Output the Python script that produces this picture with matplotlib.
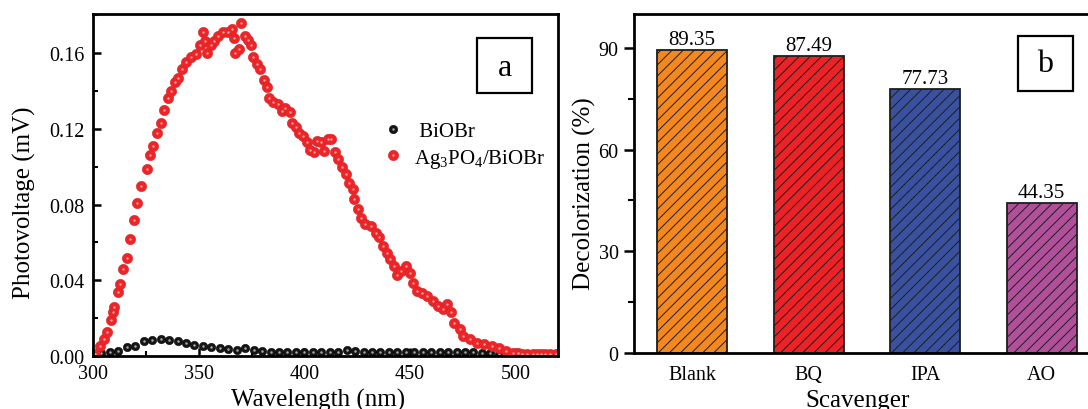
import matplotlib
matplotlib.use("Agg")
import matplotlib.pyplot as plt
from matplotlib.patches import Rectangle
from matplotlib.ticker import MultipleLocator
from matplotlib.legend_handler import HandlerTuple

plt.rcParams['font.family'] = ['Liberation Serif', 'DejaVu Serif']
plt.rcParams['mathtext.fontset'] = 'custom'
plt.rcParams['mathtext.rm'] = 'Liberation Serif'
plt.rcParams['mathtext.it'] = 'Liberation Serif:italic'
plt.rcParams['hatch.linewidth'] = 0.7

# ---------------- data: panel a ----------------
wl_ag = [300, 301, 303.3, 305, 306.5, 308.4, 309.6, 310, 312, 312.7, 314.3, 316, 317.7,
         319.4, 321, 322.7, 325.3, 327, 328.6, 330.3, 332, 333.7, 335.4, 337, 338.7,
         340.4, 342, 343.8, 346.3, 348.8, 350.5, 351.9, 353, 354, 355.6, 357.2, 359,
         361.4, 364, 365.7, 366.5, 367.3, 369, 370.1, 372, 373.2, 374.9, 375.8, 377.4,
         379, 380.8, 382.5, 383.3, 385, 387.5, 389.2, 391, 393, 394.3, 396, 397.6,
         399.3, 401, 402.7, 404.4, 406, 407.7, 409.4, 411, 412.8, 414.5, 416, 417.8,
         419.5, 421.2, 422.9, 423.7, 425.4, 427, 428.8, 431.3, 433.8, 435.5, 437.2,
         438.9, 440.6, 442.3, 443.9, 445.6, 448, 449.8, 451.5, 453.2, 455.7, 458.2,
         460.8, 463.3, 465.8, 467.5, 469.2, 470.9, 473.4, 475.1, 478.5, 481.8, 485.2,
         488.6, 491.9, 495.3, 498.7, 501, 503, 505.4, 508, 510, 512, 514, 516, 518.9]
pv_ag = [0.0005, 0.001, 0.0054, 0.0088, 0.0126, 0.019, 0.023, 0.026, 0.034, 0.038, 0.046,
         0.052, 0.062, 0.072, 0.081, 0.090, 0.099, 0.106, 0.111, 0.118, 0.123, 0.130,
         0.136, 0.140, 0.1445, 0.147, 0.1515, 0.155, 0.158, 0.1595, 0.164, 0.171, 0.1665,
         0.160, 0.164, 0.1665, 0.169, 0.171, 0.171, 0.1725, 0.168, 0.160, 0.162, 0.1758,
         0.169, 0.167, 0.164, 0.158, 0.154, 0.1515, 0.146, 0.142, 0.136, 0.134, 0.133,
         0.1295, 0.131, 0.1286, 0.123, 0.121, 0.118, 0.116, 0.113, 0.109, 0.1075, 0.1137,
         0.113, 0.1084, 0.1145, 0.1145, 0.1075, 0.104, 0.100, 0.096, 0.0916, 0.088, 0.083,
         0.0775, 0.073, 0.0696, 0.0687, 0.065, 0.0626, 0.058, 0.0546, 0.051, 0.0476, 0.043,
         0.045, 0.0476, 0.044, 0.0388, 0.0344, 0.0335, 0.0317, 0.029, 0.0264, 0.0247,
         0.0273, 0.023, 0.0176, 0.014, 0.0106, 0.0088, 0.007, 0.0062, 0.0053, 0.0044,
         0.0026, 0.0018, 0.0015, 0.0013, 0.0012, 0.0011, 0.001, 0.0009, 0.0009, 0.0009,
         0.0009]

wl_bi = [304, 308, 312, 316, 320, 324, 328, 332, 336, 340, 344, 348, 352, 356, 360, 364,
         368, 372, 376, 380, 384, 388, 392, 396, 400, 404, 408, 412, 416, 420, 424, 428,
         432, 436, 440, 444, 448, 452, 456, 460, 464, 468, 472, 476, 480, 484, 488, 492,
         496, 500, 504, 508, 512, 516]
pv_bi = [0.0015, 0.0022, 0.0025, 0.0050, 0.0055, 0.0080, 0.0086, 0.0092, 0.0086, 0.0080,
         0.0068, 0.0058, 0.0051, 0.0046, 0.0041, 0.0037, 0.0034, 0.0040, 0.0029, 0.0028,
         0.0022, 0.0022, 0.0021, 0.0021, 0.0021, 0.0021, 0.0021, 0.0022, 0.0021, 0.0030,
         0.0024, 0.0021, 0.0021, 0.0021, 0.0021, 0.0021, 0.0021, 0.0021, 0.0021, 0.0021,
         0.0022, 0.0021, 0.0020, 0.0021, 0.0021, 0.0018, 0.0015, 0.0012, 0.0010, 0.0010,
         0.0010, 0.0010, 0.0010, 0.0012]

# ---------------- data: panel b ----------------
scavengers = ['Blank', 'BQ', 'IPA', 'AO']
decolorization = [89.35, 87.49, 77.73, 44.35]
bar_colors = ['#F5871F', '#EC2227', '#3A51A0', '#B0509A']

fig = plt.figure(figsize=(10.88, 4.10), dpi=100)

# ---------------- panel a ----------------
ax1 = fig.add_axes([0.0855, 0.1293, 0.4274, 0.8341])
lb, = ax1.plot(wl_bi, pv_bi, 'o', ms=6.0, color='#151515', mec='#000000', mew=0.4, ls='none')
lbh, = ax1.plot(wl_bi, pv_bi, 'o', ms=1.8, color='#a8a8a8', mew=0, ls='none')
lr, = ax1.plot(wl_ag, pv_ag, 'o', ms=7.4, color='#EC2628', mec='#dc2022', mew=0.4, ls='none')
lrh, = ax1.plot(wl_ag, pv_ag, 'o', ms=1.7, color='#f7a5a5', mew=0, ls='none')

ax1.set_xlim(300, 520)
ax1.set_ylim(0, 0.1806)
ax1.xaxis.set_major_locator(MultipleLocator(50))
ax1.xaxis.set_minor_locator(MultipleLocator(25))
ax1.yaxis.set_major_locator(MultipleLocator(0.04))
ax1.yaxis.set_minor_locator(MultipleLocator(0.02))
ax1.yaxis.set_major_formatter(plt.FormatStrFormatter('%.2f'))
ax1.tick_params(which='major', direction='in', length=6, width=1.8, labelsize=14.5, pad=6)
ax1.tick_params(which='minor', direction='in', length=3.5, width=1.5)
for s in ax1.spines.values():
    s.set_linewidth(2.0)
ax1.set_xlabel('Wavelength (nm)', fontsize=18)
ax1.set_ylabel('Photovoltage (mV)', fontsize=18)
ax1.xaxis.set_label_coords(0.483, -0.092)
ax1.yaxis.set_label_coords(-0.122, 0.45)

leg = ax1.legend([(lb, lbh), (lr, lrh)], [' BiOBr', 'Ag$_3$PO$_4$/BiOBr'],
                 handler_map={tuple: HandlerTuple(ndivide=1)},
                 loc='upper left', bbox_to_anchor=(0.624, 0.685), frameon=False,
                 fontsize=15, handlelength=0.9, handletextpad=0.6, borderpad=0,
                 labelspacing=0.25, borderaxespad=0)

ax1.add_patch(Rectangle((0.826, 0.769), 0.118, 0.161, transform=ax1.transAxes,
                        fill=False, lw=1.6, ec='black', clip_on=False))
ax1.text(0.885, 0.845, 'a', transform=ax1.transAxes, fontsize=23,
         ha='center', va='center')

# ---------------- panel b ----------------
ax2 = fig.add_axes([0.5827, 0.1366, 0.4283, 0.8268])
xpos = list(range(len(scavengers)))
bars = ax2.bar(xpos, decolorization, width=0.6, color=bar_colors,
               edgecolor='#1e1e1e', linewidth=1.3, hatch='///')
for x, v in zip(xpos, decolorization):
    ax2.text(x, v + 0.3, f'{v:.2f}', ha='center', va='bottom', fontsize=15)
ax2.set_xlim(-0.5, 3.5)
ax2.set_ylim(0, 100)
ax2.set_xticks(xpos)
ax2.set_xticklabels(scavengers)
ax2.yaxis.set_major_locator(MultipleLocator(30))
ax2.yaxis.set_minor_locator(MultipleLocator(15))
ax2.tick_params(axis='y', which='major', direction='out', length=7, width=1.8,
                labelsize=14.5, pad=4)
ax2.tick_params(axis='y', which='minor', direction='out', length=4, width=1.5)
ax2.tick_params(axis='x', which='both', length=0, labelsize=14.5, pad=9)
for s in ax2.spines.values():
    s.set_linewidth(2.0)
ax2.set_xlabel('Scavenger', fontsize=18)
ax2.set_ylabel('Decolorization (%)', fontsize=18)
ax2.xaxis.set_label_coords(0.48, -0.106)
ax2.yaxis.set_label_coords(-0.082, 0.473)

ax2.add_patch(Rectangle((0.824, 0.773), 0.118, 0.162, transform=ax2.transAxes,
                        fill=False, lw=1.6, ec='black', clip_on=False))
ax2.text(0.883, 0.854, 'b', transform=ax2.transAxes, fontsize=23,
         ha='center', va='center')

fig.savefig('out.png', dpi=100)
